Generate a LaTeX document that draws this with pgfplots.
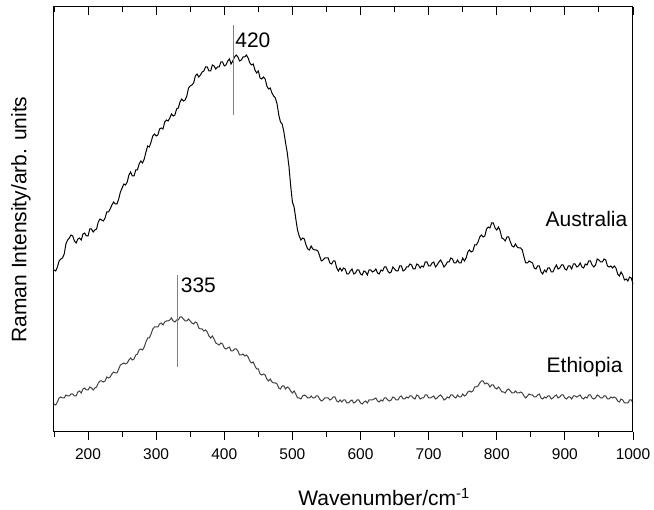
\documentclass[border=0pt]{standalone}
\usepackage{pgfplots}
\pgfplotsset{compat=1.18}
\usepackage{fontspec}
\setmainfont{Liberation Sans}
\definecolor{ethgray}{RGB}{65,65,65}
\definecolor{markgray}{RGB}{130,130,130}
\pgfplotstableread{
x y
150 162
152.5 161
155 165
157.5 171
160 173
162.5 174
165 178
167.5 188
170 192
172.5 194
175 197
177.5 196
180 191
182.5 189
185 193
187.5 194
190 192
192.5 198
195 199
197.5 196
200 196
202.5 203
205 203
207.5 200
210 202
212.5 203
215 210
217.5 213
220 212
222.5 211
225 214
227.5 220
230 220
232.5 223
235 227
237.5 230
240 228
242.5 228
245 233
247.5 240
250 244
252.5 248
255 247
257.5 250
260 257
262.5 260
265 256
267.5 256
270 262
272.5 262
275 268
277.5 271
280 269
282.5 273
285 280
287.5 286
290 285
292.5 290
295 296
297.5 298
300 296
302.5 297
305 303
307.5 304
310 303
312.5 310
315 312
317.5 311
320 314
322.5 318
325 316
327.5 317
330 323
332.5 324
335 330
337.5 333
340 331
342.5 332
345 336
347.5 344
350 346
352.5 347
355 349
357.5 356
360 358
362.5 355
365 357
367.5 360
370 361
372.5 365
375 365
377.5 361
380 361
382.5 367
385 366
387.5 363
390 365
392.5 365
395 370
397.5 370
400 366
402.5 367
405 371
407.5 373
410 368
412.5 371
415 375
417.5 377
420 375
422.5 371
425 372
427.5 375
430 375
432.5 377
435 374
437.5 369
440 367
442.5 368
445 362
447.5 359
450 361
452.5 354
455 353
457.5 355
460 353
462.5 346
465 343
467.5 344
470 339
472.5 336
475 334
477.5 328
480 317
482.5 310
485 308
487.5 300
490 289
492.5 279
495 265
497.5 246
500 230
502.5 225
505 213
507.5 202
510 196
512.5 192
515 194
517.5 193
520 187
522.5 183
525 182
527.5 186
530 183
532.5 182
535 182
537.5 181
540 176
542.5 171
545 172
547.5 174
550 174
552.5 174
555 169
557.5 168
560 171
562.5 171
565 164
567.5 161
570 164
572.5 161
575 164
577.5 163
580 158
582.5 158
585 161
587.5 163
590 158
592.5 159
595 162
597.5 162
600 158
602.5 157
605 161
607.5 160
610 157
612.5 162
615 162
617.5 160
620 161
622.5 163
625 159
627.5 158
630 162
632.5 161
635 165
637.5 165
640 161
642.5 159
645 160
647.5 165
650 163
652.5 161
655 161
657.5 166
660 166
662.5 161
665 162
667.5 165
670 165
672.5 168
675 167
677.5 163
680 163
682.5 168
685 167
687.5 164
690 166
692.5 165
695 170
697.5 170
700 166
702.5 166
705 169
707.5 170
710 165
712.5 167
715 170
717.5 172
720 169
722.5 165
725 167
727.5 170
730 170
732.5 174
735 173
737.5 169
740 169
742.5 172
745 169
747.5 169
750 174
752.5 171
755 174
757.5 180
760 182
762.5 180
765 181
767.5 187
770 187
772.5 190
775 195
777.5 197
780 195
782.5 196
785 203
787.5 205
790 204
792.5 209
795 209
797.5 204
800 202
802.5 205
805 201
807.5 194
810 193
812.5 191
815 195
817.5 195
820 190
822.5 186
825 185
827.5 188
830 185
832.5 184
835 184
837.5 182
840 175
842.5 169
845 169
847.5 171
850 170
852.5 169
855 164
857.5 163
860 166
862.5 166
865 160
867.5 158
870 162
872.5 160
875 164
877.5 164
880 160
882.5 160
885 164
887.5 167
890 163
892.5 164
895 167
897.5 167
900 163
902.5 162
905 166
907.5 166
910 163
912.5 168
915 168
917.5 165
920 166
922.5 169
925 165
927.5 164
930 168
932.5 167
935 171
937.5 171
940 167
942.5 165
945 167
947.5 173
950 172
952.5 170
955 170
957.5 173
960 172
962.5 166
965 165
967.5 166
970 164
972.5 166
975 164
977.5 158
980 156
982.5 160
985 157
987.5 152
990 153
992.5 151
995 155
997.5 154
1000 148
}\australia
\pgfplotstableread{
x y
150 28
152.5 27
155 30
157.5 34
160 35
162.5 34
165 34
167.5 37
170 36
172.5 36
175 38
177.5 38
180 36
182.5 36
185 40
187.5 41
190 39
192.5 43
195 44
197.5 42
200 42
202.5 45
205 44
207.5 42
210 44
212.5 45
215 49
217.5 51
220 51
222.5 50
225 51
227.5 55
230 54
232.5 55
235 58
237.5 60
240 59
242.5 59
245 63
247.5 67
250 68
252.5 69
255 68
257.5 69
260 72
262.5 74
265 72
267.5 73
270 77
272.5 78
275 82
277.5 83
280 82
282.5 85
285 90
287.5 94
290 94
292.5 98
295 103
297.5 105
300 105
302.5 105
305 108
307.5 109
310 107
312.5 110
315 111
317.5 111
320 112
322.5 114
325 111
327.5 110
330 112
332.5 112
335 115
337.5 115
340 113
342.5 111
345 111
347.5 113
350 111
352.5 109
355 108
357.5 110
360 109
362.5 104
365 103
367.5 103
370 101
372.5 102
375 100
377.5 96
380 94
382.5 96
385 93
387.5 89
390 88
392.5 87
395 89
397.5 88
400 84
402.5 83
405 84
407.5 85
410 81
412.5 81
415 83
417.5 83
420 81
422.5 77
425 77
427.5 78
430 76
432.5 77
435 75
437.5 71
440 69
442.5 70
445 66
447.5 63
450 63
452.5 58
455 57
457.5 58
460 57
462.5 53
465 51
467.5 53
470 50
472.5 49
475 49
477.5 48
480 44
482.5 43
485 46
487.5 46
490 43
492.5 45
495 44
497.5 41
500 39
502.5 41
505 38
507.5 34
510 34
512.5 33
515 36
517.5 37
520 36
522.5 34
525 34
527.5 36
530 34
532.5 34
535 36
537.5 36
540 33
542.5 31
545 32
547.5 34
550 34
552.5 34
555 32
557.5 33
560 35
562.5 35
565 31
567.5 30
570 32
572.5 30
575 32
577.5 32
580 29
582.5 29
585 31
587.5 32
590 29
592.5 30
595 32
597.5 32
600 29
602.5 28
605 30
607.5 31
610 29
612.5 32
615 32
617.5 32
620 33
622.5 34
625 31
627.5 30
630 32
632.5 31
635 34
637.5 34
640 32
642.5 31
645 32
647.5 35
650 34
652.5 32
655 32
657.5 35
660 36
662.5 33
665 33
667.5 35
670 34
672.5 36
675 36
677.5 34
680 33
682.5 37
685 36
687.5 33
690 34
692.5 34
695 37
697.5 37
700 34
702.5 34
705 35
707.5 36
710 33
712.5 34
715 36
717.5 37
720 35
722.5 32
725 33
727.5 35
730 34
732.5 37
735 37
737.5 35
740 34
742.5 37
745 35
747.5 35
750 38
752.5 36
755 37
757.5 40
760 41
762.5 40
765 41
767.5 45
770 45
772.5 46
775 49
777.5 51
780 51
782.5 48
785 49
787.5 48
790 45
792.5 47
795 47
797.5 44
800 43
802.5 45
805 43
807.5 40
810 40
812.5 39
815 42
817.5 43
820 41
822.5 39
825 39
827.5 41
830 39
832.5 39
835 40
837.5 39
840 36
842.5 34
845 36
847.5 38
850 37
852.5 37
855 35
857.5 35
860 37
862.5 38
865 34
867.5 33
870 35
872.5 34
875 36
877.5 36
880 33
882.5 34
885 36
887.5 37
890 34
892.5 35
895 37
897.5 37
900 34
902.5 33
905 35
907.5 35
910 33
912.5 36
915 36
917.5 35
920 36
922.5 37
925 34
927.5 33
930 35
932.5 34
935 37
937.5 37
940 34
942.5 33
945 34
947.5 37
950 36
952.5 34
955 34
957.5 36
960 36
962.5 33
965 33
967.5 35
970 34
972.5 35
975 34
977.5 31
980 30
982.5 33
985 32
987.5 29
990 29
992.5 29
995 32
997.5 32
1000 29
}\ethiopia
\begin{document}
\begin{tikzpicture}
\path[use as bounding box] (-54pt,-78pt) rectangle (600pt,432pt);
\begin{axis}[
  scale only axis, width=579pt, height=425pt,
  xmin=150, xmax=1000, ymin=0, ymax=425,
  xtick={200,300,...,1000}, minor xtick={150,250,...,950},
  ytick=\empty,
  xtick pos=left, tick align=outside,
  major tick length=8pt, minor tick length=5pt,
  every tick/.style={black, line width=0.9pt},
  axis line style={line width=1pt},
  /pgf/number format/assume math mode=true,
  /pgf/number format/1000 sep={},
  tick label style={font=\fontsize{15.5}{18}\selectfont},
  xticklabel style={yshift=-5pt},
  xlabel={Wavenumber/cm\textsuperscript{-1}},
  ylabel={Raman Intensity/arb. units},
  label style={font=\fontsize{21}{25}\selectfont},
  xlabel style={at={(axis description cs:0.57,0)}, anchor=center, yshift=-65pt},
  ylabel style={at={(axis description cs:0,0.5)}, anchor=center, yshift=33pt},
  clip=false,
]
\addplot[black, line width=1pt] table {\australia};
\addplot[ethgray, line width=1pt] table {\ethiopia};
\addplot[markgray, line width=1pt] coordinates {(413,317) (413,407)};
\addplot[markgray, line width=1pt] coordinates {(331,65) (331,157)};
\node[anchor=west, font=\fontsize{21}{25}\selectfont, inner sep=0pt] at (axis cs:416,392) {420};
\node[anchor=west, font=\fontsize{21}{25}\selectfont, inner sep=0pt] at (axis cs:336,147) {335};
\node[anchor=east, font=\fontsize{21}{25}\selectfont, inner sep=0pt] at (axis cs:992,213) {Australia};
\node[anchor=east, font=\fontsize{21}{25}\selectfont, inner sep=0pt] at (axis cs:985,65) {Ethiopia};
\end{axis}
\begin{axis}[
  scale only axis, width=579pt, height=425pt,
  xmin=150, xmax=1000, ymin=0, ymax=425,
  xtick={200,300,...,1000}, minor xtick={150,250,...,950},
  xticklabels={}, ytick=\empty,
  xtick pos=right, tick align=inside,
  major tick length=8pt, minor tick length=5pt,
  every tick/.style={black, line width=0.9pt},
  axis line style={line width=1pt},
]
\end{axis}
\end{tikzpicture}
\end{document}
